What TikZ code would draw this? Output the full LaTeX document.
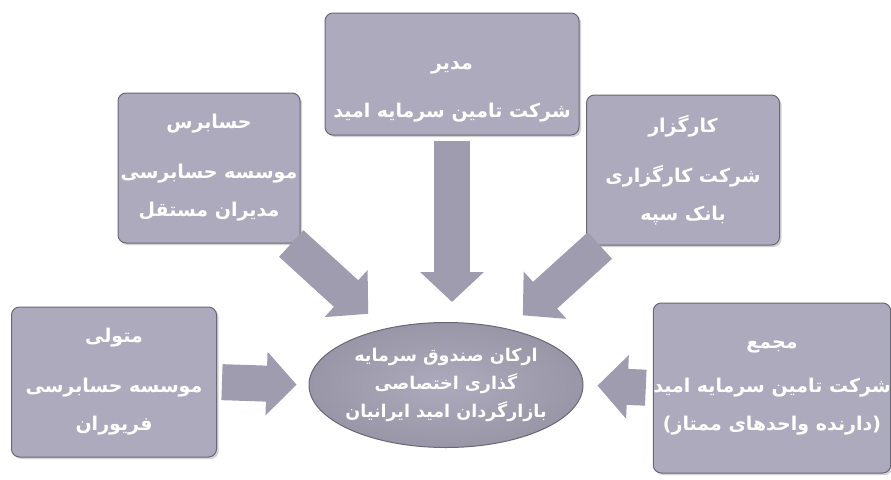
\documentclass[tikz,border=0pt]{standalone}
\usepackage{fontspec}
\newfontfamily\farsi[Script=Arabic]{DejaVu Sans}
\TeXXeTstate=1
\usetikzlibrary{positioning,arrows.meta,shapes.geometric,shadows}
\newcommand{\fa}[1]{\beginR #1\endR}
\definecolor{boxgray}{RGB}{172,170,188}
\definecolor{arrgray}{RGB}{158,156,174}
\definecolor{edgegray}{RGB}{105,104,118}

\begin{document}
\begin{tikzpicture}[x=1pt, y=-1pt,
  role/.style={draw=edgegray, fill=boxgray, rounded corners=8pt, line width=1pt,
               align=center, text=white, inner sep=0pt,
               font=\farsi\bfseries\fontsize{19}{38}\selectfont,
               drop shadow={shadow xshift=2pt, shadow yshift=-2pt, opacity=0.35}},
  hub/.style={ellipse, draw=edgegray, line width=1pt, inner color=boxgray,
              outer color=boxgray!70!edgegray, align=center, text=white, inner sep=-10pt,
              font=\farsi\bfseries\fontsize{17.5}{28}\selectfont,
              minimum width=274pt, minimum height=125pt},
  bigarr/.style={arrgray, line width=36pt, -{Triangle[length=30pt, width=62pt]}}
]
  \fill[white] (0,0) rectangle (891,479);
  \useasboundingbox (0,0) rectangle (891,479);

  % Fund in the middle
  \node[hub] (arkan) at (446,385)
    {\fa{ارکان صندوق سرمایه}\\\fa{گذاری اختصاصی}\\\fa{بازارگردان امید ایرانیان}};

  % Pillars around it
  \node[role, minimum width=254pt, minimum height=122pt] (modir) at (452,74)
    {\rule{0pt}{44pt}\fa{مدیر}\\[10pt]\fa{شرکت تامین سرمایه امید}};
  \node[role, minimum width=182pt, minimum height=150pt] (hesabras) at (209,168)
    {\fa{حسابرس}\\[12pt]\fa{موسسه حسابرسی}\\\fa{مدیران مستقل}};
  \node[role, minimum width=193pt, minimum height=150pt] (kargozar) at (683,170)
    {\fa{کارگزار}\\[12pt]\fa{شرکت کارگزاری}\\\fa{بانک سپه}};
  \node[role, minimum width=205pt, minimum height=150pt] (motevalli) at (114,382)
    {\fa{متولی}\\[12pt]\fa{موسسه حسابرسی}\\\fa{فریوران}};
  \node[role, minimum width=236pt, minimum height=170pt] (majma) at (772,388)
    {\fa{مجمع}\\[6pt]\fa{شرکت تامین سرمایه امید}\\\fa{(دارنده واحدهای ممتاز)}};

  % Block arrows into the fund
  \draw[bigarr, shorten <=5pt, shorten >=20pt] (modir.south) -- (modir.south |- arkan.north);
  \draw[bigarr, shorten >=22pt] (hesabras) -- (arkan);
  \draw[bigarr, shorten >=20pt] (kargozar) -- (arkan);
  \draw[bigarr, shorten <=5pt, shorten >=12pt] (motevalli.east) -- (arkan.west);
  \draw[bigarr, shorten <=7pt, shorten >=14pt] (majma.west) -- (arkan.east);
\end{tikzpicture}
\end{document}
